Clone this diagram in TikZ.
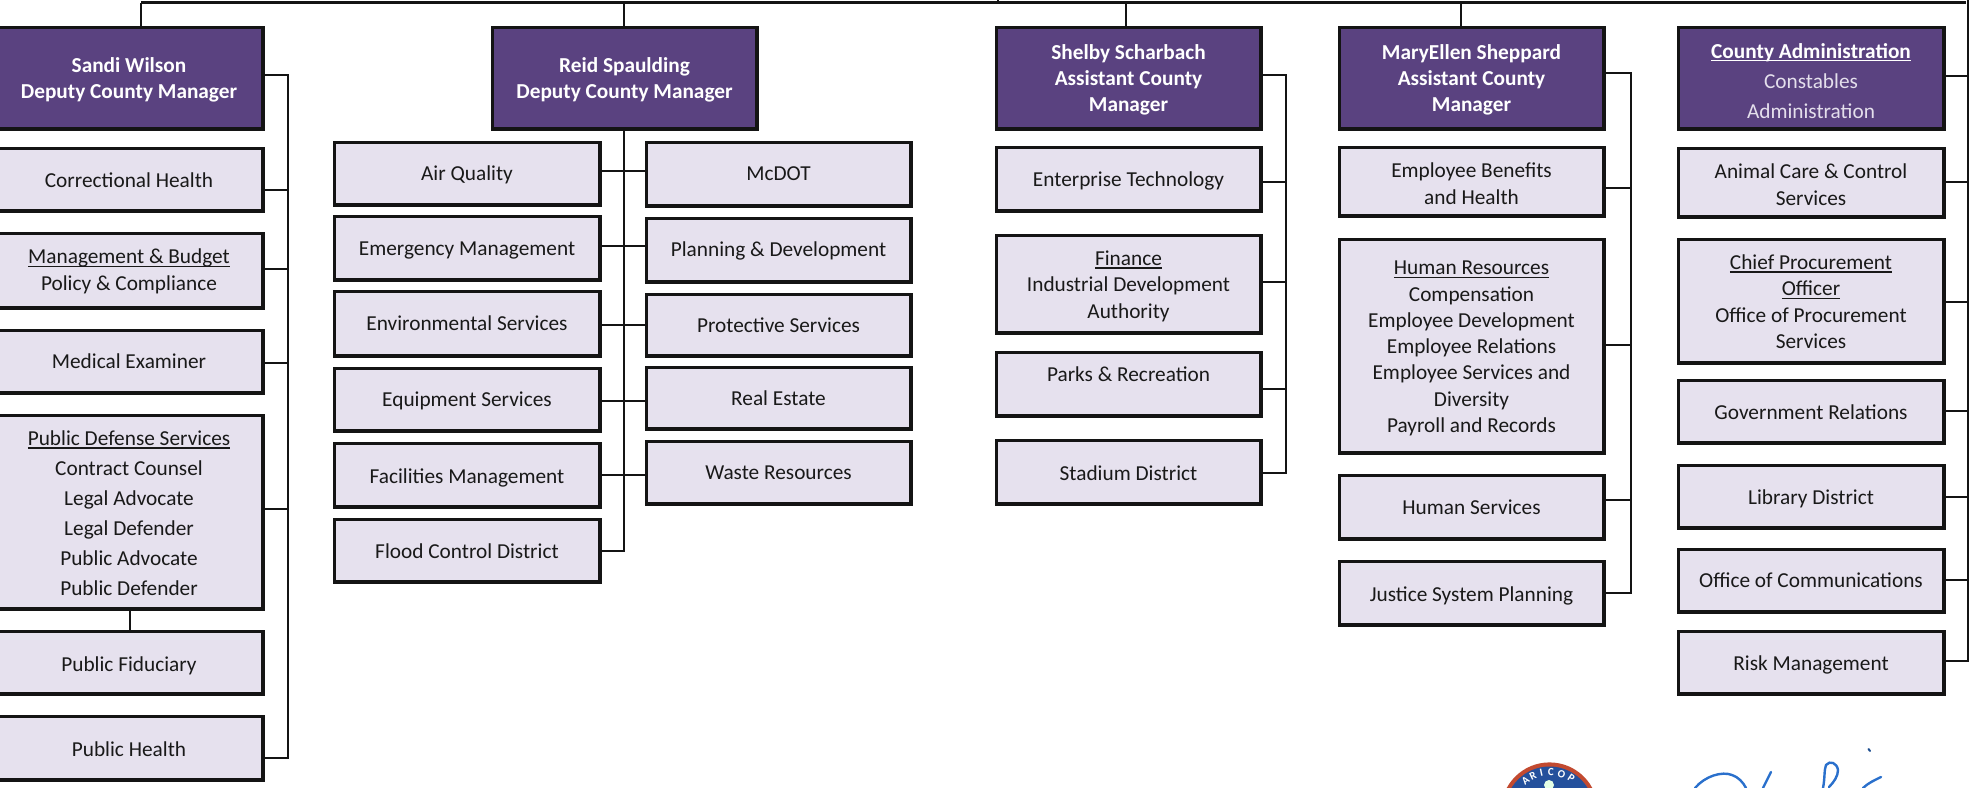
\documentclass[tikz,border=0pt]{standalone}
\usepackage{fontspec}
\setmainfont{Carlito}
\definecolor{headfill}{HTML}{5A4280}
\definecolor{bodyfill}{HTML}{E6E1EE}
\definecolor{edgeink}{HTML}{141414}
\definecolor{paletxt}{HTML}{E4DFEC}
\definecolor{sealred}{HTML}{C24A30}
\definecolor{sealblue}{HTML}{24509C}
\definecolor{signblue}{HTML}{2A70CC}
\newcommand{\myul}[1]{\setbox0\hbox{#1}\leavevmode\rlap{\raisebox{-3.2pt}{\rule{\wd0}{1.4pt}}}\box0}
\newcommand{\ls}{\rule{0pt}{14pt}\rule[-6pt]{0pt}{6pt}}
% \bx{name}{x0}{x1}{y0}{y1}{style}{text centre y}{text}
\newcommand{\bx}[8]{%
  \node[#6, minimum width={(#3)*1pt-(#2)*1pt-2.4pt}, minimum height={(#5)*1pt-(#4)*1pt-2.4pt}] (#1) at ({(#2+#3)/2},{(#4+#5)/2}) {};
  \node[#6 text] (#1t) at ({(#2+#3)/2},{#7+2.6}) {#8};
}
\newcommand{\branch}[3]{\draw[conn] (#1.east |- 0,#3) -- (#2 |- 0,#3);}
\tikzset{
  headbox/.style={draw=edgeink, line width=3.4pt, fill=headfill, inner sep=0pt, outer sep=0pt},
  bodybox/.style={draw=edgeink, line width=3.4pt, fill=bodyfill, inner sep=0pt, outer sep=0pt},
  headbox text/.style={text=white, font=\fontsize{21.3}{26.3}\selectfont\bfseries, align=center, inner sep=0pt},
  bodybox text/.style={text=black!90, font=\fontsize{21.3}{26.3}\selectfont, align=center, inner sep=0pt},
  conn/.style={draw=edgeink, line width=2.4pt},
  sign/.style={draw=signblue, line width=2.4pt, line cap=round},
}
\begin{document}
\begin{tikzpicture}[x=1pt,y=-1pt]
\useasboundingbox (0,0) rectangle (1978,787);
\clip (0,0) rectangle (1978,787);
% bus coordinates
\coordinate (busA) at (288,0);
\coordinate (busB) at (624,0);
\coordinate (busC) at (1286,0);
\coordinate (busD) at (1631,0);
\coordinate (busE) at (1968,0);
\coordinate (topL) at (141,2.5);
\coordinate (topR) at (1966,2.5);
\coordinate (topTick) at (998,0);
% column 1
\bx{sandi}{-6}{264}{26}{130}{headbox}{78.5}{\ls Sandi Wilson\\\ls Deputy County Manager}
\bx{corr}{-6}{264}{147}{212}{bodybox}{181}{\ls Correctional Health}
\bx{mgmt}{-6}{264}{232}{309}{bodybox}{270}{\ls\myul{Management \& Budget}\\\ls Policy \& Compliance}
\bx{medx}{-6}{264}{329}{394}{bodybox}{362}{\ls Medical Examiner}
{\tikzset{bodybox text/.append style={font=\fontsize{21.3}{30}\selectfont}}
\bx{pds}{-6}{264}{414}{610}{bodybox}{513.5}{\ls\myul{Public Defense Services}\\\ls Contract Counsel\\\ls Legal Advocate\\\ls Legal Defender\\\ls Public Advocate\\\ls Public Defender}
}
\bx{fid}{-6}{264}{630}{695}{bodybox}{664}{\ls Public Fiduciary}
\bx{phealth}{-6}{264}{715}{781}{bodybox}{749}{\ls Public Health}
% column 2
\bx{reid}{491}{758}{26}{130}{headbox}{78.5}{\ls Reid Spaulding\\\ls Deputy County Manager}
\bx{air}{333}{601}{141}{206}{bodybox}{174}{\ls Air Quality}
\bx{emer}{333}{601}{215}{281}{bodybox}{249}{\ls Emergency Management}
\bx{env}{333}{601}{290}{357}{bodybox}{324}{\ls Environmental Services}
\bx{equip}{333}{601}{367}{432}{bodybox}{400}{\ls Equipment Services}
\bx{fac}{333}{601}{442}{508}{bodybox}{476}{\ls Facilities Management}
\bx{flood}{333}{601}{518}{583}{bodybox}{551}{\ls Flood Control District}
\bx{mcdot}{645}{912}{141}{207}{bodybox}{174}{\ls McDOT}
\bx{plan}{645}{912}{217}{283}{bodybox}{250}{\ls Planning \& Development}
\bx{prot}{645}{912}{293}{357}{bodybox}{326}{\ls Protective Services}
\bx{real}{645}{912}{366}{430}{bodybox}{398}{\ls Real Estate}
\bx{waste}{645}{912}{440}{505}{bodybox}{473}{\ls Waste Resources}
% column 3
\bx{shelby}{995}{1262}{26}{130}{headbox}{78.5}{\ls Shelby Scharbach\\\ls Assistant County\\\ls Manager}
\bx{ent}{995}{1262}{146}{212}{bodybox}{180}{\ls Enterprise Technology}
\bx{fin}{995}{1262}{234}{334}{bodybox}{285}{\ls\myul{Finance}\\\ls Industrial Development\\\ls Authority}
\bx{parks}{995}{1262}{351}{417}{bodybox}{375}{\ls Parks \& Recreation}
\bx{stad}{995}{1262}{439}{505}{bodybox}{473}{\ls Stadium District}
% column 4
\bx{mary}{1338}{1605}{26}{130}{headbox}{78.5}{\ls MaryEllen Sheppard\\\ls Assistant County\\\ls Manager}
\bx{benef}{1338}{1605}{146}{217}{bodybox}{184}{\ls Employee Benefits\\\ls and Health}
\bx{hr}{1338}{1605}{238}{454}{bodybox}{347}{\ls\myul{Human Resources}\\\ls Compensation\\\ls Employee Development\\\ls Employee Relations\\\ls Employee Services and\\\ls Diversity\\\ls Payroll and Records}
\bx{hsvc}{1338}{1605}{474}{540}{bodybox}{508}{\ls Human Services}
\bx{just}{1338}{1605}{560}{626}{bodybox}{594}{\ls Justice System Planning}
% column 5
\node[headbox, minimum width=265.6pt, minimum height=101.6pt] (admin) at (1811,78) {};
\node[headbox text, font=\fontsize{21.3}{30}\selectfont, text=paletxt] (admint) at (1811,83.6) {\ls\textcolor{white}{\bfseries\myul{County Administration}}\\\ls Constables\\\ls Administration};
\bx{animal}{1677}{1945}{147}{218}{bodybox}{185}{\ls Animal Care \& Control\\\ls Services}
\bx{chief}{1677}{1945}{238}{364}{bodybox}{302}{\ls\myul{Chief Procurement}\\\ls\myul{Officer}\\\ls Office of Procurement\\\ls Services}
\bx{gov}{1677}{1945}{379}{444}{bodybox}{412}{\ls Government Relations}
\bx{lib}{1677}{1945}{464}{529}{bodybox}{497}{\ls Library District}
\bx{comm}{1677}{1945}{548}{613}{bodybox}{581}{\ls Office of Communications}
\bx{risk}{1677}{1945}{630}{695}{bodybox}{663}{\ls Risk Management}
% top line and drops
\draw[conn] (topL) -- (topR);
\draw[conn] (topTick) -- (topTick |- topL);
\draw[conn] (topL) -- (sandi.north -| topL);
\draw[conn] (reid.north -| busB) -- (busB |- topL);
\coordinate (dropC) at (1126,0);
\coordinate (dropD) at (1461,0);
\draw[conn] (shelby.north -| dropC) -- (dropC |- topL);
\draw[conn] (mary.north -| dropD) -- (dropD |- topL);
% column 1 bus
\draw[conn] (sandi.east |- 0,75) -- (busA |- 0,75) -- (busA |- 0,758) -- (phealth.east |- 0,758);
\branch{corr}{busA}{190}
\branch{mgmt}{busA}{269}
\branch{medx}{busA}{363}
\branch{pds}{busA}{509}
\draw[conn] (pds.south -| 130,0) -- (fid.north -| 130,0);
% column 2 bus
\draw[conn] (reid.south -| busB) -- (busB |- 0,551) -- (flood.east |- 0,551);
\draw[conn] (air.east |- 0,171) -- (mcdot.west |- 0,171);
\draw[conn] (emer.east |- 0,246) -- (plan.west |- 0,246);
\draw[conn] (env.east |- 0,325) -- (prot.west |- 0,325);
\draw[conn] (equip.east |- 0,401) -- (real.west |- 0,401);
\draw[conn] (fac.east |- 0,475) -- (waste.west |- 0,475);
% column 3 bus
\draw[conn] (shelby.east |- 0,75) -- (busC |- 0,75) -- (busC |- 0,473) -- (stad.east |- 0,473);
\branch{ent}{busC}{182}
\branch{fin}{busC}{282}
\branch{parks}{busC}{389}
% column 4 bus
\draw[conn] (mary.east |- 0,73) -- (busD |- 0,73) -- (busD |- 0,593) -- (just.east |- 0,593);
\branch{benef}{busD}{188}
\branch{hr}{busD}{345}
\branch{hsvc}{busD}{500}
% column 5 bus
\draw[conn] (busE) -- (busE |- 0,661) -- (risk.east |- 0,661);
\branch{admin}{busE}{76}
\branch{animal}{busE}{182}
\branch{chief}{busE}{302}
\branch{gov}{busE}{411}
\branch{lib}{busE}{497}
\branch{comm}{busE}{580}
% seal
\fill[sealred] (1549.5,811) circle (48.6);
\fill[sealblue] (1549.5,811) circle (44.5);
\foreach \ang/\ch in {-38/A,-25/R,-12/I,2/C,18/O,34/P}
  \node[text=white, inner sep=0pt, font=\fontsize{11}{11}\selectfont\bfseries, rotate=-\ang] at ({1549.5+39*sin(\ang)},{811-39*cos(\ang)}) {\ch};
\fill[white!90!green] (1549,785) circle (5);
% signature
\draw[sign] (1695,788) .. controls (1705,776) and (1722,771) .. (1732,775) .. controls (1738,777) and (1743,782) .. (1746,788);
\draw[sign] (1771,772) -- (1763,788);
\draw[sign] (1823,788) .. controls (1825,778) and (1824,770) .. (1826,765) .. controls (1830,760) and (1837,763) .. (1838,770) .. controls (1838,776) and (1834,782) .. (1829,787);
\draw[sign, line width=2pt, signblue!70!black] (1868.5,749) -- (1870,751);
\draw[sign] (1863,788) .. controls (1868,783) and (1875,780) .. (1881,777);
\end{tikzpicture}
\end{document}
